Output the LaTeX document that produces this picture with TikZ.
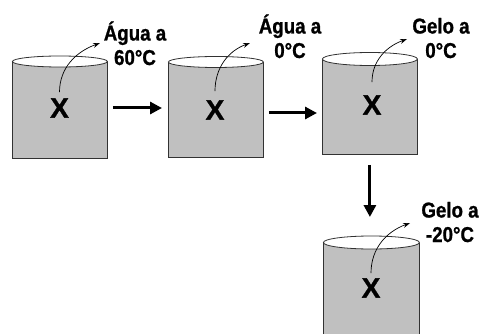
\documentclass[tikz,border=0pt]{standalone}
\usepackage{fontspec}
\newfontfamily\labfont[FakeStretch=0.87,FakeBold=1]{Liberation Sans}
\newfontfamily\xfont[FakeBold=1]{Liberation Sans}
\usetikzlibrary{arrows.meta}
\definecolor{cylfill}{RGB}{192,192,192}
\definecolor{cylline}{RGB}{50,50,50}
\tikzset{
  cylbody/.style={draw=cylline, fill=cylfill, line width=0.8pt, inner sep=0pt, anchor=north west},
  cyltop/.style={draw=cylline, fill=white, line width=0.8pt},
  xlab/.style={font=\xfont\bfseries\fontsize{28}{30}\selectfont, inner sep=0pt},
  tlab/.style={font=\labfont\bfseries\fontsize{21.5}{24.5}\selectfont, align=center, inner sep=0pt, anchor=base},
  curv/.style={line width=0.7pt, -{Stealth[length=7pt,width=5pt]}},
  bigarrow/.style={line width=3pt, -{Triangle[length=12pt,width=12pt]}}
}
\begin{document}
\begin{tikzpicture}[x=1pt,y=-1pt]
\clip (0,0) rectangle (479,334);
\fill[white] (0,0) rectangle (479,334);
% cylinders
\node[cylbody, minimum width=95pt, minimum height=96.5pt] (c1) at (12,61.5) {};
\draw[cyltop] (c1.north) ellipse [x radius=47.5pt, y radius=5.5pt];
\node[cylbody, minimum width=95pt, minimum height=95pt] (c2) at (168,62) {};
\draw[cyltop] (c2.north) ellipse [x radius=47.5pt, y radius=5.5pt];
\node[cylbody, minimum width=95pt, minimum height=95pt] (c3) at (322,59) {};
\draw[cyltop] (c3.north) ellipse [x radius=47.5pt, y radius=6.5pt];
\node[cylbody, minimum width=96pt, minimum height=100pt] (c4) at (323,242.5) {};
\draw[cyltop] (c4.north) ellipse [x radius=48pt, y radius=6.5pt];
% X labels
\node[xlab] (x1) at (59.5,108) {X};
\node[xlab] (x2) at (215,110) {X};
\node[xlab] (x3) at (372,105) {X};
\node[xlab] (x4) at (371,288) {X};
% text labels (anchored at baseline of last line)
\node[tlab] (l1) at (135,65) {Água a\\60°C};
\node[tlab] (l2) at (290,58) {Água a\\0°C};
\node[tlab] (l3) at (441,58) {Gelo a\\0°C};
\node[tlab] (l4) at (450,242) {Gelo a\\-20°C};
% curved arrows end points
\coordinate (e1) at (100,43);
\coordinate (e2) at (250,43);
\coordinate (e3) at (407,39);
\coordinate (e4) at (410,223);
\draw[curv] ([yshift=6pt]x1.north) to[out=90,in=200] (e1);
\draw[curv] ([yshift=9pt]x2.north) to[out=90,in=200] (e2);
\draw[curv] ([yshift=13pt]x3.north) to[out=90,in=200] (e3);
\draw[curv] ([yshift=5pt]x4.north) to[out=90,in=200] (e4);
% process arrows
\draw[bigarrow] ([xshift=5pt]c1.east |- x1) -- ([xshift=-6pt]c2.west |- x1);
\draw[bigarrow] ([xshift=5pt,yshift=-5pt]c2.east |- x1) -- ([xshift=-5pt,yshift=-5pt]c3.west |- x1);
\draw[bigarrow] ([yshift=-10pt]c3.south) -- ([yshift=25.5pt]c3.south |- c4.north);
\end{tikzpicture}
\end{document}
